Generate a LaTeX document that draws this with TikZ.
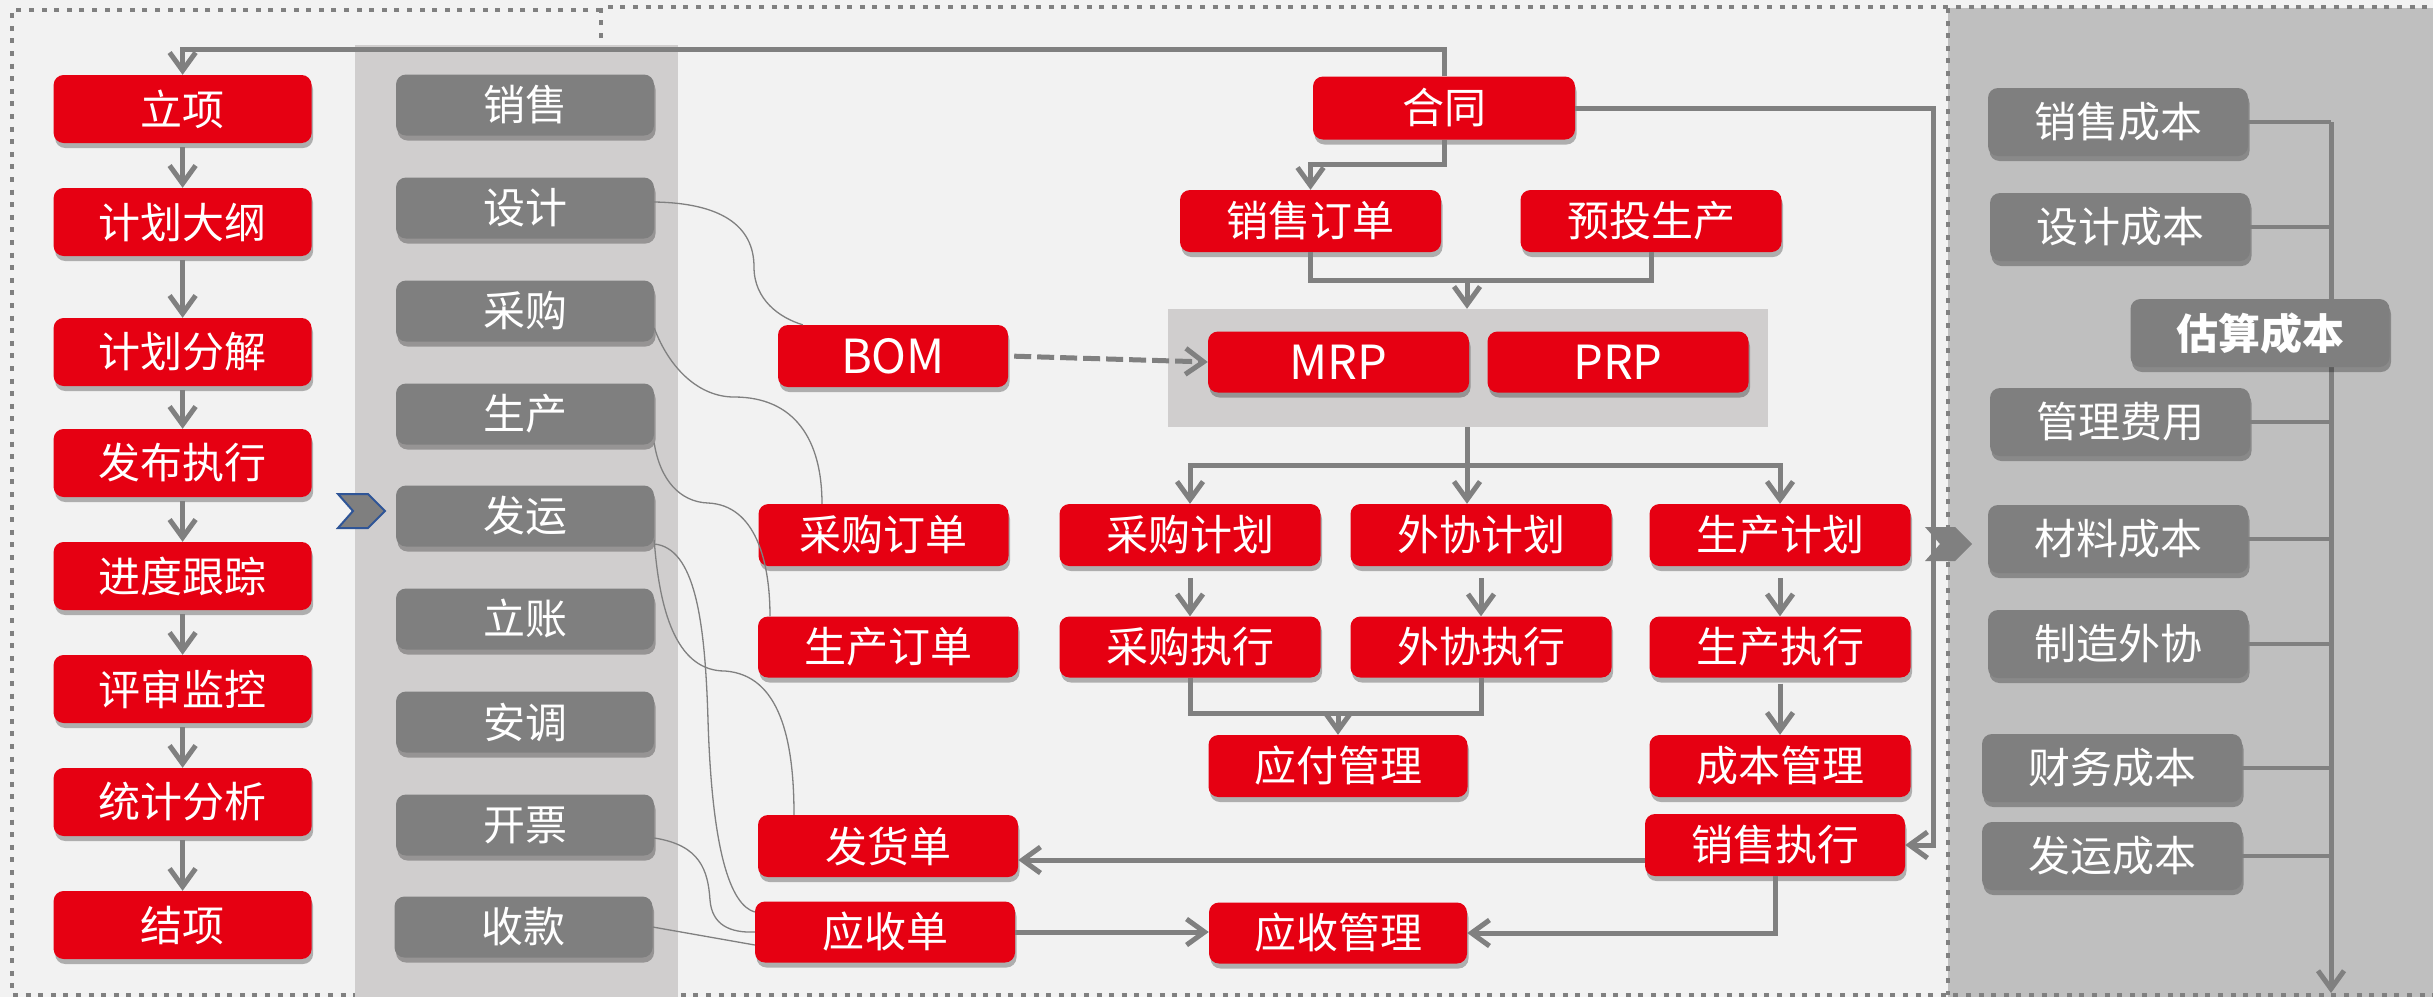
\documentclass[tikz,border=0pt]{standalone}
\usepackage{fontspec}
\setmainfont{Noto Sans CJK SC}
\usetikzlibrary{arrows.meta,shadows}
\definecolor{cred}{HTML}{E60012}
\definecolor{cgbox}{HTML}{7F7F7F}
\definecolor{cline}{HTML}{808080}
\definecolor{cbg}{HTML}{F2F2F2}
\definecolor{cband}{HTML}{D0CECE}
\definecolor{cpanel}{HTML}{BFBFBF}
\definecolor{cblue}{HTML}{2F5597}
\tikzset{
  boxbase/.style={rounded corners=10pt, text=white, inner sep=0pt,
    font=\fontsize{42}{50}\selectfont,
    drop shadow={shadow xshift=1.5pt, shadow yshift=-5pt, opacity=0.28, fill=black}},
  rbox/.style={boxbase, fill=cred},
  gbox/.style={boxbase, fill=cgbox},
  latin/.style={font=\fontsize{47}{54}\selectfont},
  sz/.style 2 args={minimum width=#1, minimum height=#2},
  arr/.style={draw=cline, line width=5pt, -{Straight Barb[length=18pt,width=26pt]}},
  ln/.style={draw=cline, line width=5pt},
  thinl/.style={draw=cline, line width=1.3pt},
  dotb/.style={draw=cline, line width=4.5pt, dash pattern=on 5pt off 7.6pt},
}
\begin{document}
\begin{tikzpicture}[x=1pt,y=-1pt]
\useasboundingbox (0,0) rectangle (2433,997);
% backgrounds
\fill[cbg] (0,0) rectangle (2433,997);
\fill[cpanel] (1948,8) rectangle (2433,997);
\draw[dotb] (601,38) -- (601,7) -- (2433,7);
\draw[dotb] (601,10) -- (12,10) -- (12,995) -- (2433,995);
\draw[dotb] (1948,8) -- (1948,995);
\fill[cband] (355,45) rectangle (678,997);
\node[fill=cband, minimum width=600pt, minimum height=118pt, inner sep=0pt] (band) at (1468,368) {};

% right panel main vertical (behind boxes)
\coordinate (vtop) at (2331,122);
\coordinate (vbot) at (2331,993);
\draw[arr] (vtop) -- (vbot);

% left column
\node[rbox, sz={258pt}{68pt}] (L1) at (182.6,109) {立项};
\node[rbox, sz={258pt}{68pt}] (L2) at (182.6,222) {计划大纲};
\node[rbox, sz={258pt}{68pt}] (L3) at (182.6,352) {计划分解};
\node[rbox, sz={258pt}{68pt}] (L4) at (182.6,463) {发布执行};
\node[rbox, sz={258pt}{68pt}] (L5) at (182.6,576) {进度跟踪};
\node[rbox, sz={258pt}{68pt}] (L6) at (182.6,689) {评审监控};
\node[rbox, sz={258pt}{68pt}] (L7) at (182.6,802) {统计分析};
\node[rbox, sz={258pt}{68pt}] (L8) at (182.6,925) {结项};

% gray column
\node[gbox, sz={258pt}{61pt}] (G1) at (525,105) {销售};
\node[gbox, sz={258pt}{61pt}] (G2) at (525,208) {设计};
\node[gbox, sz={258pt}{61pt}] (G3) at (525,311) {采购};
\node[gbox, sz={258pt}{61pt}] (G4) at (525,414) {生产};
\node[gbox, sz={258pt}{61pt}] (G5) at (525,516) {发运};
\node[gbox, sz={258pt}{61pt}] (G6) at (525,619) {立账};
\node[gbox, sz={258pt}{61pt}] (G7) at (525,722) {安调};
\node[gbox, sz={258pt}{61pt}] (G8) at (525,825) {开票};
\node[gbox, sz={258pt}{61pt}] (G9) at (523.5,927) {收款};

% middle
\node[rbox, sz={262pt}{63pt}] (HT) at (1444,108) {合同};
\node[rbox, sz={261pt}{62pt}] (XSDD) at (1310.5,221) {销售订单};
\node[rbox, sz={261pt}{62pt}] (YTSC) at (1651,221) {预投生产};
\node[rbox, latin, sz={261pt}{61pt}] (MRP) at (1338.5,362) {MRP};
\node[rbox, latin, sz={261pt}{61pt}] (PRP) at (1618,362) {PRP};
\node[rbox, latin, sz={230pt}{62pt}] (BOM) at (893,356) {BOM};
\node[rbox, sz={250pt}{62pt}] (CGDD) at (883.5,535) {采购订单};
\node[rbox, sz={260pt}{61pt}] (SCDD) at (888,647) {生产订单};
\node[rbox, sz={260pt}{62pt}] (FHD) at (888,846) {发货单};
\node[rbox, sz={260pt}{61pt}] (YSD) at (885,932) {应收单};
\node[rbox, sz={261pt}{62pt}] (CGJH) at (1190,535) {采购计划};
\node[rbox, sz={261pt}{62pt}] (WXJH) at (1481,535) {外协计划};
\node[rbox, sz={261pt}{62pt}] (SCJH) at (1780,535) {生产计划};
\node[rbox, sz={261pt}{61pt}] (CGZX) at (1190,647) {采购执行};
\node[rbox, sz={261pt}{61pt}] (WXZX) at (1481,647) {外协执行};
\node[rbox, sz={261pt}{61pt}] (SCZX) at (1780,647) {生产执行};
\node[rbox, sz={259pt}{62pt}] (YFGL) at (1338,766) {应付管理};
\node[rbox, sz={261pt}{62pt}] (CBGL) at (1780,766) {成本管理};
\node[rbox, sz={260pt}{62pt}] (XSZX) at (1775,845) {销售执行};
\node[rbox, sz={258pt}{61pt}] (YSGL) at (1338,933) {应收管理};

% right panel
\node[gbox, sz={260pt}{68pt}] (XSCB) at (2118,122) {销售成本};
\node[gbox, sz={260pt}{68pt}] (SJCB) at (2120,227) {设计成本};
\node[gbox, sz={259pt}{68pt}, font=\bfseries\fontsize{42}{50}\selectfont] (GSCB) at (2260,333) {估算成本};
\node[gbox, sz={260pt}{68pt}] (GLFY) at (2120,422) {管理费用};
\node[gbox, sz={260pt}{68pt}] (CLCB) at (2118,539) {材料成本};
\node[gbox, sz={260pt}{68pt}] (ZZWX) at (2118,644) {制造外协};
\node[gbox, sz={260pt}{68pt}] (CWCB) at (2112,768) {财务成本};
\node[gbox, sz={260pt}{68pt}] (FYCB) at (2112,856) {发运成本};
\foreach \n in {XSCB,SJCB,GLFY,CLCB,ZZWX,CWCB,FYCB}
  \draw[ln, line width=4.5pt] (\n.east) -- (\n.east -| vtop);

% left chain
\foreach \a/\b in {L1/L2,L2/L3,L3/L4,L4/L5,L5/L6,L6/L7,L7/L8}
  \draw[arr, shorten <=4pt] (\a) -- (\b);

% top loop 合同 -> 立项
\coordinate (ytop) at (0,49);
\draw[arr] (HT.north) -- (HT.north |- ytop) -| (L1.north);
% 合同 -> 销售订单
\coordinate (y164) at (0,164);
\draw[arr] (HT.south) -- (HT.south |- y164) -| (XSDD.north);
% merge to band
\coordinate (y280) at (0,280);
\draw[ln] (XSDD.south) -- (XSDD.south |- y280) -- (YTSC.south |- y280) -- (YTSC.south);
\coordinate (j1) at (1467,280);
\draw[arr] (j1) -- (j1 |- band.north);
% BOM -> MRP dashed
\draw[arr, dash pattern=on 17pt off 6pt, shorten <=6pt] (BOM.east) -- (MRP.west);
% band -> plans
\coordinate (j2) at (1467,465);
\draw[ln] (j2 |- band.south) -- (j2);
\draw[arr] (j2) -- (j2 |- WXJH.north);
\draw[arr] (j2) -| (CGJH.north);
\draw[arr] (j2) -| (SCJH.north);
% plans -> executions
\draw[arr, shorten <=12pt] (CGJH) -- (CGZX);
\draw[arr, shorten <=12pt] (WXJH) -- (WXZX);
\draw[arr, shorten <=12pt] (SCJH) -- (SCZX);
% executions -> 应付管理
\coordinate (y713) at (0,713);
\draw[ln] (CGZX.south) -- (CGZX.south |- y713) -- (WXZX.south |- y713) -- (WXZX.south);
\draw[arr] (YFGL.north |- y713) -- (YFGL.north);
\draw[arr, shorten <=6pt] (SCZX) -- (CBGL);
% 合同 -> 销售执行
\coordinate (rx) at (1933,500);
\draw[arr] (HT.east) -| (rx) |- (XSZX.east);
% 销售执行 -> 发货单
\coordinate (y860) at (0,860);
\draw[arr] (XSZX.west |- y860) -- (FHD.east |- y860);
% 销售执行 -> 应收管理
\draw[arr] (XSZX.south) |- (YSGL.east);
% 应收单 -> 应收管理
\draw[arr] (YSD.east) -- (YSD.east -| YSGL.west);

% thin curved links
\draw[thinl] ([yshift=6pt]G2.east) .. controls (720,203) and (754,225) .. (754,267)
  .. controls (754,300) and (780,318) .. ([xshift=25pt]BOM.north west);
\draw[thinl] ([yshift=-17pt]G3.east) .. controls (670,370) and (700,397) .. (734,397)
  .. controls (795,397) and (822,440) .. ([xshift=-61.5pt]CGDD.north);
\draw[thinl] ([yshift=-29pt]G4.east) .. controls (660,480) and (680,502) .. (708,503)
  .. controls (755,505) and (770,560) .. ([xshift=-118pt]SCDD.north);
\draw[thinl] ([yshift=-24pt]G5.east) .. controls (660,620) and (680,671) .. (725,671)
  .. controls (780,675) and (794,740) .. ([xshift=-94pt]FHD.north);
\draw[thinl] ([yshift=-28pt]G5.east) .. controls (695,548) and (705,620) .. (708,720)
  .. controls (712,850) and (730,905) .. ([yshift=20pt]YSD.west);
\draw[thinl] ([yshift=-13pt]G8.east) .. controls (700,845) and (708,870) .. (710,900)
  .. controls (712,925) and (730,933) .. (YSD.west);
\draw[thinl] (G9.east) -- ([yshift=-13pt]YSD.west);

% chevrons
\fill[cgbox, draw=cblue, line width=2pt] (338,494) -- (368,494) -- (385,511) -- (368,528) -- (338,528) -- (353,511) -- cycle;
\fill[cline] (1925,527) -- (1955,527) -- (1972,544) -- (1955,561) -- (1925,561) -- (1940,544) -- cycle;
\end{tikzpicture}
\end{document}
